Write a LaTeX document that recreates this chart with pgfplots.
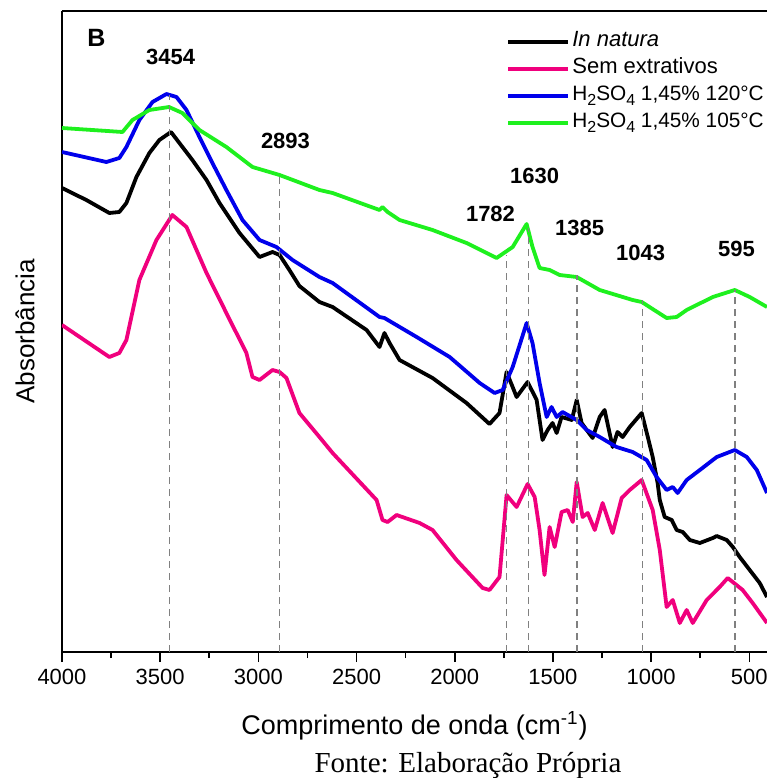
\documentclass[border=0pt]{standalone}
\usepackage{pgfplots}
\pgfplotsset{compat=1.18}
\usepackage{fontspec}
\setmainfont{Liberation Sans}
\newfontfamily\timesfont{Liberation Serif}
\definecolor{cnat}{RGB}{0,0,0}
\definecolor{csem}{RGB}{240,0,125}
\definecolor{c120}{RGB}{0,0,235}
\definecolor{c105}{RGB}{30,240,30}
\newcommand{\sub}[1]{\raisebox{-0.45ex}{\footnotesize #1}}
\begin{document}
\begin{tikzpicture}
\path[use as bounding box] (-31pt,-63pt) rectangle (352.5pt,326pt);
\begin{axis}[
  at={(0,0)}, anchor=south west,
  scale only axis, width=352.5pt, height=320.5pt,
  x dir=reverse, xmin=410, xmax=4000, ymin=0, ymax=641,
  axis x line*=bottom, axis y line*=left,
  axis line style={-, line width=0.9pt},
  xtick={500,1000,...,4000}, minor x tick num=1,
  ytick=\empty,
  tick align=outside,
  major tick length=5pt, minor tick length=3pt,
  every tick/.style={line width=0.8pt, black},
  tick label style={font=\fontsize{11}{13}\selectfont},
  /pgf/number format/assume math mode=true,
  /pgf/number format/1000 sep={},
  xlabel={Comprimento de onda (cm\textsuperscript{-1})},
  xlabel style={font=\fontsize{13.5}{15}\selectfont, at={(axis description cs:0.5,0)}, anchor=center, yshift=-37pt},
  ylabel={Absorbância},
  ylabel style={font=\fontsize{13}{15}\selectfont, at={(axis description cs:-0.0525,0.5)}, anchor=center},
  legend style={draw=none, fill=none, at={(rel axis cs:0.63,0.973)}, anchor=north west, inner sep=0pt,
    nodes={inner sep=1pt, text height=8pt, text depth=3.5pt, font=\fontsize{11}{13}\selectfont}},
  legend cell align=left,
  legend image code/.code={\draw[#1] (0pt,0pt) -- (30pt,0pt);},
  every axis plot/.append style={line width=1.9pt, line join=round},
]
% In natura
\addplot[cnat] coordinates {
(4000,464) (3876,452) (3759,439) (3708,440) (3672,449) (3621,475) (3555,499) (3504,512) (3445,520)
(3336,492) (3264,472) (3198,449) (3096,419) (2994,395) (2928,400) (2892,397) (2842,382) (2791,366)
(2689,350) (2622,345) (2449,322) (2383,305) (2358,319) (2332,309) (2281,292) (2113,274) (1940,249)
(1823,228) (1772,239) (1736,280) (1685,255) (1629,270) (1583,252) (1553,212) (1527,222) (1502,229)
(1481,219) (1456,235) (1404,232) (1379,252) (1354,229) (1328,222) (1298,214) (1262,235) (1237,242)
(1196,205) (1171,220) (1145,215) (1109,225) (1048,239) (1017,215) (992,195) (967,169) (956,152)
(931,135) (895,132) (870,122) (839,120) (803,112) (752,109) (686,114) (666,116) (615,112) (584,105)
(549,95) (498,82) (447,69) (410,55)
};
\addlegendentry{\itshape In natura}
% Sem extrativos
\addplot[csem] coordinates {
(4000,327) (3759,295) (3708,299) (3672,312) (3606,372) (3519,412) (3438,437) (3366,425) (3264,379)
(3163,339) (3061,299) (3030,275) (2994,272) (2928,282) (2892,280) (2857,274) (2791,239) (2689,215)
(2622,199) (2398,152) (2368,132) (2342,130) (2296,137) (2179,129) (2113,122) (1991,92) (1858,64)
(1823,62) (1772,75) (1736,157) (1685,145) (1629,168) (1593,155) (1568,122) (1543,77) (1517,125)
(1491,105) (1456,140) (1425,142) (1399,130) (1379,170) (1349,135) (1323,139) (1287,122) (1247,149)
(1196,119) (1150,154) (1109,162) (1048,172) (992,142) (956,102) (921,45) (890,52) (854,29) (819,42)
(788,29) (717,52) (651,65) (610,74) (534,62) (483,49) (410,29)
};
\addlegendentry{Sem extrativos}
% H2SO4 120
\addplot[c120] coordinates {
(4000,500) (3774,490) (3708,494) (3672,505) (3606,532) (3539,550) (3468,558) (3417,555) (3366,542)
(3300,515) (3234,489) (3163,462) (3081,432) (2994,412) (2908,405) (2826,392) (2689,375) (2622,369)
(2383,335) (2358,334) (2194,315) (2026,295) (1873,269) (1797,259) (1756,262) (1705,285) (1634,329)
(1604,309) (1568,269) (1532,235) (1507,245) (1481,235) (1451,240) (1379,232) (1328,222) (1262,215)
(1176,205) (1094,200) (1023,192) (972,175) (921,162) (890,165) (865,159) (819,172) (752,182)
(666,195) (574,202) (513,195) (462,182) (410,159)
};
\addlegendentry{\fontsize{10.4}{12}\selectfont H\sub{2}SO\sub{4} 1,45\% 120°C}
% H2SO4 105
\addplot[c105] coordinates {
(4000,524) (3692,520) (3641,532) (3555,542) (3455,545) (3387,539) (3300,522) (3163,505) (3030,485)
(2892,477) (2689,462) (2622,459) (2383,442) (2368,445) (2342,440) (2281,432) (2113,422) (1940,409)
(1787,394) (1705,405) (1634,428) (1604,405) (1568,384) (1517,382) (1466,377) (1379,375) (1262,362)
(1094,352) (1048,350) (921,334) (870,335) (819,342) (686,355) (574,362) (498,355) (410,345)
};
\addlegendentry{\fontsize{10.4}{12}\selectfont H\sub{2}SO\sub{4} 1,45\% 105°C}
% reference lines
\pgfplotsset{every axis plot/.append style={forget plot}}
\addplot[gray, line width=0.7pt, dash pattern=on 3.5pt off 2.5pt] coordinates {(3454,0) (3454,557)};
\addplot[gray, line width=0.7pt, dash pattern=on 3.5pt off 2.5pt] coordinates {(2893,0) (2893,479)};
\addplot[gray, line width=0.7pt, dash pattern=on 3.5pt off 2.5pt] coordinates {(1738,0) (1738,397)};
\addplot[gray, line width=0.7pt, dash pattern=on 3.5pt off 2.5pt] coordinates {(1625,0) (1625,424)};
\addplot[gray, line width=0.7pt, dash pattern=on 3.5pt off 2.5pt] coordinates {(1378,0) (1378,377)};
\addplot[gray, line width=0.7pt, dash pattern=on 3.5pt off 2.5pt] coordinates {(1044,0) (1044,352)};
\addplot[gray, line width=0.7pt, dash pattern=on 3.5pt off 2.5pt] coordinates {(572,0) (572,362)};
% labels
\begin{scope}[every node/.style={font=\fontsize{11}{13}\selectfont\bfseries}]
\node at (axis cs:3447,595) {3454};
\node at (axis cs:2862,511) {2893};
\node at (axis cs:1818,438) {1782};
\node at (axis cs:1593,476) {1630};
\node at (axis cs:1364,424) {1385};
\node at (axis cs:1054,399) {1043};
\node at (axis cs:565,403) {595};
\node[font=\fontsize{12.5}{14}\selectfont\bfseries] at (axis cs:3825,614) {B};
\end{scope}
\end{axis}
\draw[line width=0.9pt] (0,320.5pt) -- (352.5pt,320.5pt);
\node[font=\timesfont\fontsize{14.5}{16}\selectfont] at (203pt,-57pt) {Fonte: Elaboração Própria};
\end{tikzpicture}
\end{document}
